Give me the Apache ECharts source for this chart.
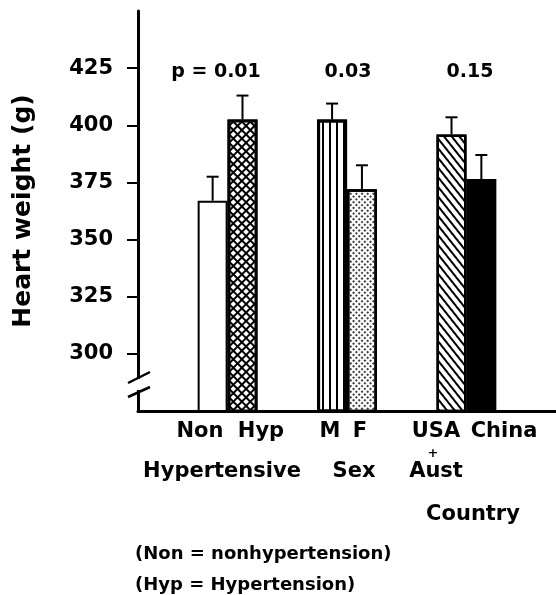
<!DOCTYPE html>
<html><head><meta charset="utf-8">
<script src="https://cdn.jsdelivr.net/npm/echarts@6/dist/echarts.min.js"></script>
<style>html,body{margin:0;padding:0;background:#fff}#c{width:556px;height:595px}</style>
</head><body><div id="c"></div>
<script>
// ---- data ----
const barLabels = ['Non', 'Hyp', 'M', 'F', 'USA', 'China'];
const groupNames = ['Hypertensive', 'Sex', 'Country'];
const heartWeight = [367, 402.5, 402.5, 372, 396, 376.5];
const errorUpper = [377.5, 413, 409.5, 382.5, 403.5, 387];
const pValues = ['p = 0.01', '0.03', '0.15'];
const yTicks = [300, 325, 350, 375, 400, 425];
const footnotes = ['(Non = nonhypertension)', '(Hyp = Hypertension)'];

// ---- layout / styles ----
const FONT = 'DejaVu Sans';
const BAR_W = 30;
const barStyles = [
  { color: '#fff', borderColor: '#000', borderWidth: 2 },
  { color: '#000', borderColor: '#000', borderWidth: 3,
    decal: { symbol: 'rect', color: '#fff', dashArrayX: [4, 2], dashArrayY: [4, 2], rotation: Math.PI / 4, symbolSize: 1 } },
  { color: '#fff', borderColor: '#000', borderWidth: 3,
    decal: { symbol: 'rect', color: '#000', dashArrayX: [2, 5], dashArrayY: [5, 0], symbolKeepAspect: false, symbolSize: 1 } },
  { color: '#fff', borderColor: '#000', borderWidth: 2.5,
    decal: { symbol: 'circle', color: '#000', dashArrayX: [2, 2], dashArrayY: [2, 2], rotation: Math.PI / 4, symbolSize: 1 } },
  { color: '#fff', borderColor: '#000', borderWidth: 2.5,
    decal: { symbol: 'rect', color: '#000', dashArrayX: [1, 0], dashArrayY: [2, 4], rotation: 0.9, symbolKeepAspect: false, symbolSize: 1 } },
  { color: '#000', borderColor: '#000', borderWidth: 2 }
];

// build slot axis: two spacer slots before each pair, two trailing
const slots = [], barData = [], errData = [];
let gapN = 0;
for (let g = 0; g < 3; g++) {
  slots.push('gap' + (gapN++)); barData.push('-');
  slots.push('gap' + (gapN++)); barData.push('-');
  for (let k = 0; k < 2; k++) {
    const i = g * 2 + k;
    slots.push(barLabels[i]);
    barData.push({ value: heartWeight[i], itemStyle: barStyles[i] });
    errData.push([slots.length - 1, heartWeight[i], errorUpper[i]]);
  }
}
slots.push('gap' + (gapN++)); barData.push('-');
slots.push('gap' + (gapN++)); barData.push('-');

const txt = (text, x, y, size, align) => ({
  type: 'text', x: x, y: y, silent: true,
  style: { text: text, fill: '#000', font: 'bold ' + size + 'px "' + FONT + '"',
           textAlign: align || 'center', textVerticalAlign: 'middle' }
});

const chart = echarts.init(document.getElementById('c'), null, { renderer: 'canvas' });
chart.setOption({
  animation: false,
  backgroundColor: '#fff',
  grid: { left: 138, right: 0, top: 11, bottom: 184, containLabel: false },
  xAxis: {
    type: 'category', data: slots, boundaryGap: true,
    axisLine: { show: true, lineStyle: { color: '#000', width: 3 } },
    axisTick: { show: false }, axisLabel: { show: false }, splitLine: { show: false }
  },
  yAxis: {
    type: 'value', min: 275, max: 450, interval: 25,
    name: 'Heart weight (g)', nameLocation: 'middle', nameRotate: 90, nameGap: 102,
    nameTextStyle: { color: '#000', fontFamily: FONT, fontWeight: 'bold', fontSize: 25 },
    axisLine: { show: true, lineStyle: { color: '#000', width: 3 } },
    axisTick: { show: true, customValues: yTicks, length: 11, lineStyle: { color: '#000', width: 2 } },
    axisLabel: { show: true, customValues: yTicks, margin: 25, color: '#000', fontFamily: FONT, fontWeight: 'bold', fontSize: 21 },
    splitLine: { show: false }
  },
  series: [
    { type: 'bar', data: barData, barWidth: BAR_W, barGap: '0%', z: 2 },
    {
      type: 'custom', data: errData, z: 3,
      renderItem: function (params, api) {
        const p0 = api.coord([api.value(0), api.value(1)]);
        const p1 = api.coord([api.value(0), api.value(2)]);
        return { type: 'group', children: [
          { type: 'line', shape: { x1: p0[0], y1: p0[1], x2: p1[0], y2: p1[1] }, style: { stroke: '#000', lineWidth: 2 } },
          { type: 'line', shape: { x1: p1[0] - 6, y1: p1[1], x2: p1[0] + 6, y2: p1[1] }, style: { stroke: '#000', lineWidth: 2 } }
        ] };
      }
    }
  ],
  graphic: [
    // axis break
    { type: 'rect', shape: { x: 134, y: 379, width: 9, height: 11 }, style: { fill: '#fff' }, z: 100 },
    { type: 'line', shape: { x1: 128, y1: 383, x2: 150, y2: 372 }, style: { stroke: '#000', lineWidth: 2.5 }, z: 101 },
    { type: 'line', shape: { x1: 128, y1: 397, x2: 150, y2: 387 }, style: { stroke: '#000', lineWidth: 2.5 }, z: 101 },
    // p values
    txt(pValues[0], 216, 72, 19), txt(pValues[1], 348, 72, 19), txt(pValues[2], 470, 72, 19),
    // bar labels
    txt(barLabels[0], 200, 432, 21), txt(barLabels[1], 261, 432, 21),
    txt(barLabels[2], 330, 432, 21), txt(barLabels[3], 360, 432, 21),
    txt(barLabels[4], 436, 432, 21), txt(barLabels[5], 504, 432, 21),
    txt('+', 433, 454, 13),
    txt(groupNames[0], 222, 472, 21), txt(groupNames[1], 354, 472, 21), txt('Aust', 436, 472, 21),
    txt(groupNames[2], 473, 515, 21),
    txt(footnotes[0], 135, 554, 18, 'left'), txt(footnotes[1], 135, 585, 18, 'left')
  ]
});
</script></body></html>
